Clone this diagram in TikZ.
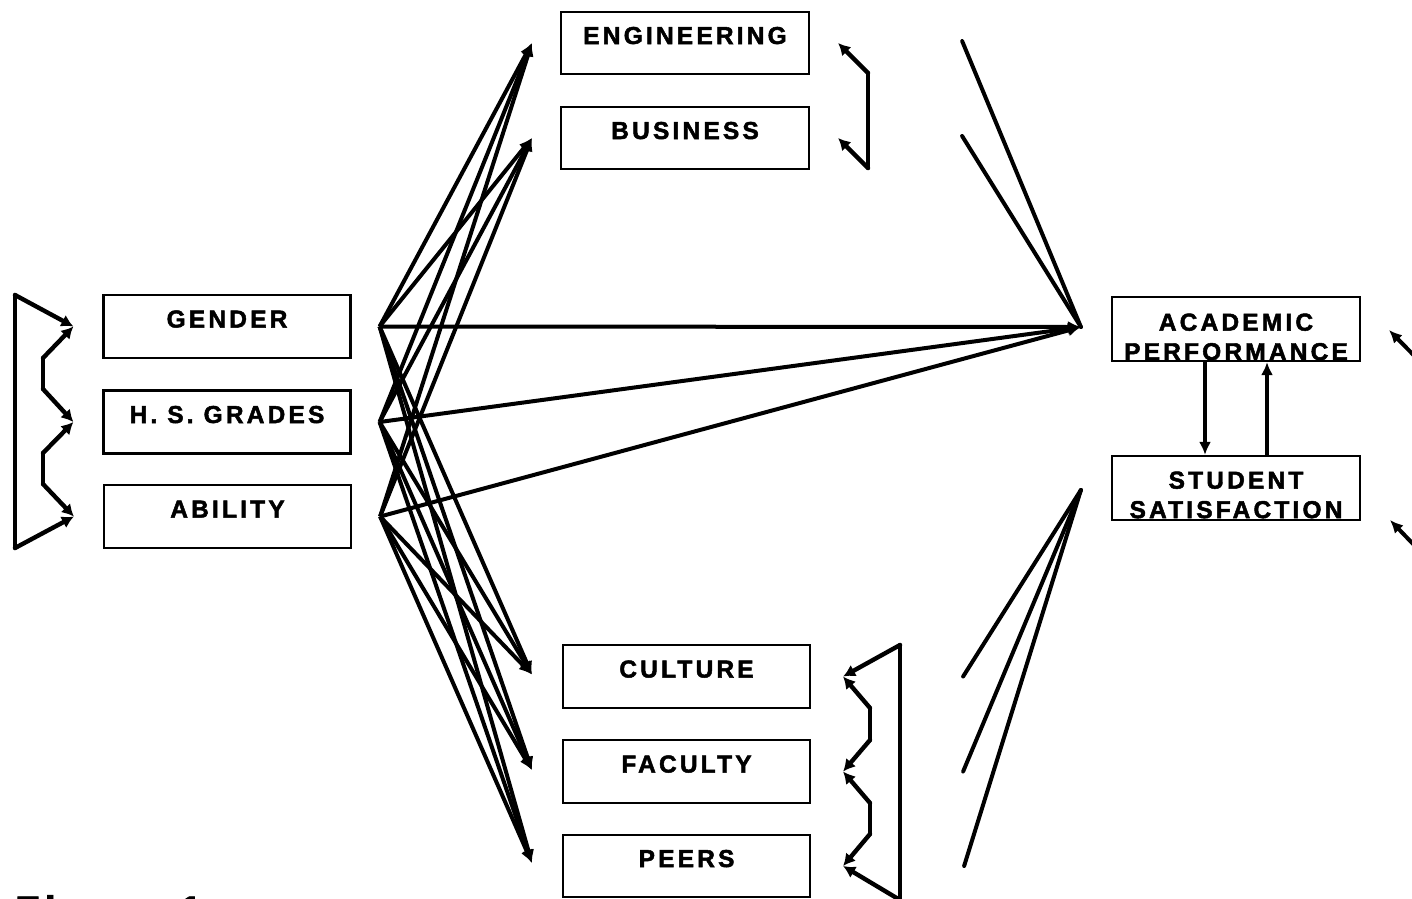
\documentclass[tikz,border=0pt]{standalone}
\usepackage{fontspec}
\newfontfamily\labfam{Liberation Sans}[UprightFont=*-Bold, BoldFont=*-Bold, LetterSpace=13, FakeBold=2]
\usetikzlibrary{arrows.meta}
\newcommand{\btxt}[2][-1pt]{\smash{\raisebox{#1}{#2}}}
\newcommand{\btwo}[3][-1.6pt]{\smash{\raisebox{#1}{\begin{tabular}[t]{@{}c@{}}#2\\#3\end{tabular}}}}
\tikzset{
  varbox/.style={draw, line width=2.2pt, minimum width=247pt, minimum height=63pt, inner sep=0pt,
    font=\labfam\fontsize{24.5}{29.5}\selectfont},
  conn/.style={line width=4pt, -{Latex[length=13pt,width=12pt]}},
  wire/.style={line width=4pt, line cap=round},
  brk/.style={line width=4.4pt, line join=round, line cap=round},
  brktip/.style={brk, -{Latex[length=12pt,width=13pt]}},
}
\begin{document}
\begin{tikzpicture}[x=1pt,y=-1pt]
\useasboundingbox (0,0) rectangle (1412,898);
\clip (0,0) rectangle (1412,898);

% boxes
\node[varbox] (gender) at (227,326.5) {\btxt{GENDER}};
\node[varbox] (hsg) at (227,422) {\btxt{H. S. GRADES}};
\node[varbox] (abil) at (227.5,516.5) {\btxt{ABILITY}};
\node[varbox, minimum width=248pt, minimum height=62pt] (eng) at (685,43) {\btxt{ENGINEERING}};
\node[varbox, minimum width=248pt, minimum height=62pt] (bus) at (685,138) {\btxt{BUSINESS}};
\node[varbox] (cul) at (686.5,676.5) {\btxt{CULTURE}};
\node[varbox] (fac) at (686.5,771.5) {\btxt{FACULTY}};
\node[varbox, minimum height=62pt] (peer) at (686.5,866) {\btxt{PEERS}};
\node[varbox, minimum width=248pt, minimum height=64pt] (acad) at (1236,329) {\btwo{ACADEMIC}{PERFORMANCE}};
\node[varbox, minimum width=248pt, minimum height=64pt] (sat) at (1236,488) {\btwo[-0.6pt]{STUDENT}{SATISFACTION}};

% source and target points
\coordinate (sg) at ([xshift=28pt]gender.east);
\coordinate (sh) at ([xshift=28pt]hsg.east);
\coordinate (sa) at ([xshift=28pt]abil.east);
\coordinate (tEng) at ([xshift=-28pt]eng.west);
\coordinate (tBus) at ([xshift=-28pt]bus.west);
\coordinate (tCul) at ([xshift=-30pt,yshift=2pt]cul.west);
\coordinate (tFac) at ([xshift=-30pt,yshift=1.5pt]fac.west);
\coordinate (tPeer) at ([xshift=-30pt,yshift=3pt]peer.west);
\coordinate (tAcad) at ([xshift=-30pt,yshift=2pt]acad.west);
\coordinate (tSat) at ([xshift=-30pt,yshift=-2pt]sat.west);

\foreach \s in {sg,sh,sa}
  \foreach \t in {tEng,tBus,tAcad,tCul,tFac,tPeer}
    \draw[conn] (\s) -- (\t);

% paths into the outcomes
\coordinate (e1) at ([xshift=152pt,yshift=2pt]eng.east);
\coordinate (e2) at ([xshift=152pt,yshift=2pt]bus.east);
\coordinate (b1) at ([xshift=152pt]cul.east);
\coordinate (b2) at ([xshift=152pt]fac.east);
\coordinate (b3) at ([xshift=153pt]peer.east);
\draw[wire] (e1) -- (tAcad);
\draw[wire] (e2) -- (tAcad);
\draw[wire] (b1) -- (tSat);
\draw[wire] (b2) -- (tSat);
\draw[wire] (b3) -- (tSat);

% reciprocal arrows
\draw[conn] ([xshift=-31pt]acad.south) -- ([xshift=-31pt]sat.north);
\draw[conn] ([xshift=31pt]sat.north) -- ([xshift=31pt]acad.south);

% arrows entering from the right edge
\coordinate (r1) at (1440,382);
\coordinate (r1t) at (1389,330);
\coordinate (r2) at (1440,572);
\coordinate (r2t) at (1390,520);
\draw[conn] (r1) -- (r1t);
\draw[conn] (r2) -- (r2t);

% left bracket
\coordinate (L0) at (15,295);
\coordinate (L1) at (15,548);
\coordinate (V1) at ([xshift=-29pt]gender.west);
\coordinate (V2) at ([xshift=-29pt]hsg.west);
\coordinate (V3) at ([xshift=-29pt]abil.west);
\coordinate (K1) at (43,358);
\coordinate (K2) at (43,389);
\coordinate (K3) at (43,453);
\coordinate (K4) at (43,484);
\draw[brk] (L0) -- (L1);
\draw[brktip] (L0) -- (V1);
\draw[brktip] (K1) -- (V1);
\draw[brk] (K1) -- (K2);
\draw[brktip] (K2) -- (V2);
\draw[brktip] (K3) -- (V2);
\draw[brk] (K3) -- (K4);
\draw[brktip] (K4) -- (V3);
\draw[brktip] (L1) -- (V3);

% top bracket
\coordinate (T1) at ([xshift=28pt]eng.east);
\coordinate (T2) at ([xshift=28pt]bus.east);
\coordinate (Tc) at (868,73);
\coordinate (Tb) at (868,168);
\draw[brktip] (Tc) -- (T1);
\draw[brk] (Tc) -- (Tb);
\draw[brktip] (Tb) -- (T2);

% bottom bracket
\coordinate (R0) at (900,645);
\coordinate (R1) at (900,900);
\coordinate (W1) at ([xshift=32pt]cul.east);
\coordinate (W2) at ([xshift=32pt]fac.east);
\coordinate (W3) at ([xshift=32pt]peer.east);
\coordinate (J1) at (870,708);
\coordinate (J2) at (870,740);
\coordinate (J3) at (870,803);
\coordinate (J4) at (870,834);
\draw[brk] (R0) -- (R1);
\draw[brktip] (R0) -- (W1);
\draw[brktip] (J1) -- (W1);
\draw[brk] (J1) -- (J2);
\draw[brktip] (J2) -- (W2);
\draw[brktip] (J3) -- (W2);
\draw[brk] (J3) -- (J4);
\draw[brktip] (J4) -- (W3);
\draw[brktip] (R1) -- (W3);

% caption, cut by the lower edge
\node[anchor=north west, inner sep=0pt, font=\labfam\fontsize{40}{48}\selectfont] (figlabel) at (15,895) {Figure 1};
\end{tikzpicture}
\end{document}
